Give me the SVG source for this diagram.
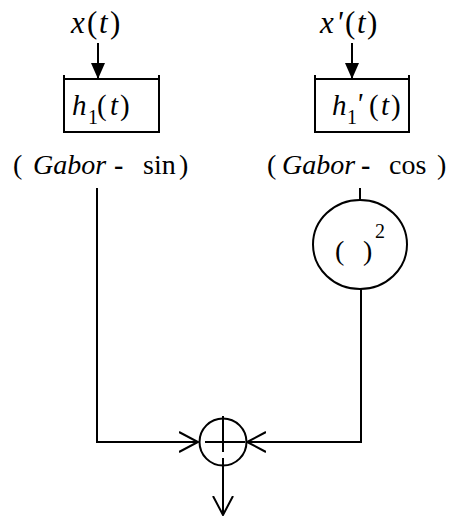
<svg xmlns="http://www.w3.org/2000/svg" width="451" height="516" viewBox="0 0 451 516">
<defs>
<marker id="tri" markerUnits="userSpaceOnUse" markerWidth="16" markerHeight="16" refX="16" refY="7" orient="auto" viewBox="0 0 16 14">
<path d="M0,0 L16,7 L0,14 Z" fill="#000"/>
</marker>
<marker id="chev" markerUnits="userSpaceOnUse" markerWidth="22" markerHeight="24" refX="19" refY="11" orient="auto" viewBox="0 0 22 24">
<path d="M0,1 L19,11 L0,21" fill="none" stroke="#000" stroke-width="2"/>
</marker>
</defs>
<rect width="451" height="516" fill="#fff"/>

<g id="input-x">
<text x="71" y="33" style="font-family:'Liberation Serif',serif;font-size:31px;font-style:italic">x</text>
<text x="87" y="33" style="font-family:'Liberation Serif',serif;font-size:31px">(</text>
<text x="99" y="33" style="font-family:'Liberation Serif',serif;font-size:31px;font-style:italic">t</text>
<text x="110" y="33" style="font-family:'Liberation Serif',serif;font-size:31px">)</text>
</g>
<g id="input-xprime">
<text x="320" y="33" style="font-family:'Liberation Serif',serif;font-size:31px;font-style:italic">x</text>
<text x="336" y="33" style="font-family:'Liberation Serif',serif;font-size:31px;font-style:italic">'</text>
<text x="345" y="33" style="font-family:'Liberation Serif',serif;font-size:31px">(</text>
<text x="357" y="33" style="font-family:'Liberation Serif',serif;font-size:31px;font-style:italic">t</text>
<text x="367" y="33" style="font-family:'Liberation Serif',serif;font-size:31px">)</text>
</g>

<g id="filter-h1">
<path d="M64,79 H159 M64,75 V133 M159,75 V133 M64,132 H159" fill="none" stroke="#000" stroke-width="2"/>
<text x="72" y="115" style="font-family:'Liberation Serif',serif;font-size:29px;font-style:italic">h</text>
<text x="88" y="124" style="font-family:'Liberation Serif',serif;font-size:20px">1</text>
<text x="97" y="115" style="font-family:'Liberation Serif',serif;font-size:29px">(</text>
<text x="110" y="115" style="font-family:'Liberation Serif',serif;font-size:29px;font-style:italic">t</text>
<text x="120" y="115" style="font-family:'Liberation Serif',serif;font-size:29px">)</text>
</g>
<g id="filter-h1prime">
<path d="M315,79 H409 M315,75 V133 M409,75 V133 M315,132 H409" fill="none" stroke="#000" stroke-width="2"/>
<text x="332" y="115" style="font-family:'Liberation Serif',serif;font-size:29px;font-style:italic">h</text>
<text x="347" y="124" style="font-family:'Liberation Serif',serif;font-size:20px">1</text>
<text x="356" y="113" style="font-family:'Liberation Serif',serif;font-size:29px;font-style:italic">'</text>
<text x="369" y="115" style="font-family:'Liberation Serif',serif;font-size:29px">(</text>
<text x="381" y="115" style="font-family:'Liberation Serif',serif;font-size:29px;font-style:italic">t</text>
<text x="391" y="115" style="font-family:'Liberation Serif',serif;font-size:29px">)</text>
</g>

<g id="label-sin">
<text x="13" y="174" style="font-family:'Liberation Serif',serif;font-size:28px">(</text>
<text x="33" y="174" style="font-family:'Liberation Serif',serif;font-size:28px;font-style:italic">Gabor</text>
<text x="114" y="174" style="font-family:'Liberation Serif',serif;font-size:28px;font-weight:bold">-</text>
<text x="143" y="174" style="font-family:'Liberation Serif',serif;font-size:28px">sin</text>
<text x="179" y="174" style="font-family:'Liberation Serif',serif;font-size:28px">)</text>
</g>
<g id="label-cos">
<text x="267" y="174" style="font-family:'Liberation Serif',serif;font-size:28px">(</text>
<text x="282" y="174" style="font-family:'Liberation Serif',serif;font-size:28px;font-style:italic">Gabor</text>
<text x="361" y="174" style="font-family:'Liberation Serif',serif;font-size:28px;font-weight:bold">-</text>
<text x="389" y="174" style="font-family:'Liberation Serif',serif;font-size:28px">cos</text>
<text x="437" y="174" style="font-family:'Liberation Serif',serif;font-size:28px">)</text>
</g>

<g id="square">
<ellipse cx="360" cy="244.5" rx="47" ry="44.5" fill="none" stroke="#000" stroke-width="2"/>
<text x="335" y="260" style="font-family:'Liberation Serif',serif;font-size:28px">(</text>
<text x="363" y="260" style="font-family:'Liberation Serif',serif;font-size:28px">)</text>
<text x="375" y="238" style="font-family:'Liberation Serif',serif;font-size:20px">2</text>
</g>

<g id="sum">
<circle cx="223" cy="442" r="23.5" fill="none" stroke="#000" stroke-width="2"/>
<path d="M205,442 H245 M223,416 V452" fill="none" stroke="#000" stroke-width="2"/>
</g>

<g id="connectors" fill="none" stroke="#000" stroke-width="2">
<line x1="98" y1="43" x2="98" y2="79" marker-end="url(#tri)"/>
<line x1="352" y1="43" x2="352" y2="79" marker-end="url(#tri)"/>
<polyline points="97,188 97,442 198,442" marker-end="url(#chev)"/>
<line x1="360" y1="188" x2="360" y2="200"/>
<polyline points="361,289 361,442 247,442" marker-end="url(#chev)"/>
<line x1="223" y1="458" x2="223" y2="515" marker-end="url(#chev)"/>
</g>
</svg>
